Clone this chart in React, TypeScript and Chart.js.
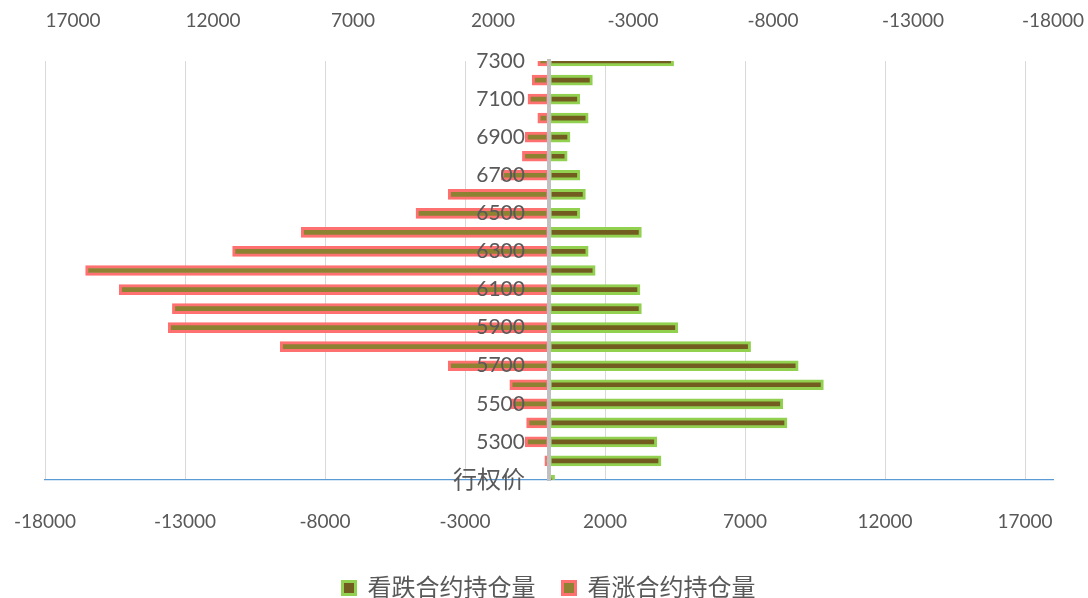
import { useEffect, useRef } from 'react';
import { Chart, registerables } from 'chart.js';

Chart.register(...registerables);

// Strike prices, bottom to top (the first row is the header cell of the sheet)
const STRIKES = [
  '行权价', '5200', '5300', '5400', '5500', '5600', '5700', '5800', '5900', '6000', '6100', '6200',
  '6300', '6400', '6500', '6600', '6700', '6800', '6900', '7000', '7100', '7200', '7300',
];

// Put open interest (看跌), plotted on the bottom axis
const PUT_OI = [
  200, 4000, 3850, 8500, 8350, 9800, 8900, 7200, 4600, 3300, 3250, 1650,
  1400, 3300, 1100, 1300, 1100, 650, 750, 1400, 1100, 1550, 4450,
];

// Call open interest (看涨), plotted on the reversed top axis
const CALL_OI = [
  null, 150, 850, 800, 1350, 1400, 3600, 9600, 13600, 13450, 15350, 16550,
  11300, 8850, 4750, 3600, 1700, 950, 850, 400, 750, 600, 400,
];

const BOTTOM_TICKS = [-18000, -13000, -8000, -3000, 2000, 7000, 12000, 17000];
const TOP_TICKS = [17000, 12000, 7000, 2000, -3000, -8000, -13000, -18000];

// Strike labels sit a little to the left of the zero line (value on the bottom axis)
const LABEL_ANCHOR = -860;

const FONT = "Lato, 'Noto Sans CJK SC', sans-serif";
const TEXT = '#595959';

export default function App() {
  const canvasRef = useRef<HTMLCanvasElement>(null);

  useEffect(() => {
    const canvas = canvasRef.current;
    if (!canvas) return;
    const chart = new Chart(canvas, {
      type: 'bar',
      data: {
        labels: STRIKES,
        datasets: [
          {
            label: '看跌合约持仓量',
            data: PUT_OI,
            xAxisID: 'x',
            yAxisID: 'y',
            backgroundColor: '#725c20',
            borderColor: '#92d050',
            borderWidth: 3,
            borderSkipped: false,
            barThickness: 10,
            grouped: false,
          },
          {
            label: '看涨合约持仓量',
            data: CALL_OI,
            xAxisID: 'x2',
            yAxisID: 'y',
            backgroundColor: '#8c8232',
            borderColor: '#ff7070',
            borderWidth: 3,
            borderSkipped: false,
            barThickness: 10,
            grouped: false,
          },
        ],
      },
      options: {
        indexAxis: 'y',
        responsive: false,
        animation: false,
        layout: { padding: { left: 45, right: 35, top: 0, bottom: -12 } },
        plugins: {
          tooltip: { enabled: false },
          legend: {
            position: 'bottom',
            labels: {
              boxWidth: 13,
              boxHeight: 13,
              padding: 27,
              color: TEXT,
              font: { family: FONT, size: 24 },
            },
          },
        },
        scales: {
          x: {
            type: 'linear',
            position: 'bottom',
            min: -18000,
            max: 18000,
            afterBuildTicks: (s: any) => {
              s.ticks = BOTTOM_TICKS.map((v) => ({ value: v }));
            },
            afterFit: (s: any) => {
              s.height = 69;
              s.paddingLeft = 0;
              s.paddingRight = 0;
            },
            ticks: {
              callback: (v: any) => String(v),
              color: TEXT,
              font: { family: FONT, size: 19 },
              padding: 30,
              autoSkip: false,
              maxRotation: 0,
            },
            grid: { color: '#d9d9d9', lineWidth: 1, drawTicks: false },
            border: { color: '#5b9bd5', width: 1.2 },
          },
          x2: {
            type: 'linear',
            position: 'top',
            reverse: true,
            min: -18000,
            max: 18000,
            afterBuildTicks: (s: any) => {
              s.ticks = TOP_TICKS.map((v) => ({ value: v }));
            },
            afterFit: (s: any) => {
              s.height = 61;
              s.paddingLeft = 0;
              s.paddingRight = 0;
            },
            ticks: {
              callback: (v: any) => String(v),
              color: TEXT,
              font: { family: FONT, size: 19 },
              padding: 28.6,
              autoSkip: false,
              maxRotation: 0,
            },
            grid: { display: false, drawTicks: false },
            border: { display: false },
          },
          // Category axis for the bars: only its line at zero is shown, over the bars
          y: {
            type: 'category',
            position: { x: 0 },
            reverse: true,
            offset: false,
            grid: { display: false, drawTicks: false },
            border: { color: '#c0c0c0', width: 4, z: 1 },
            ticks: { display: false },
          },
          // Same categories, carrying the strike labels (every other row)
          yLabels: {
            type: 'category',
            position: { x: LABEL_ANCHOR },
            reverse: true,
            offset: false,
            grid: { display: false, drawTicks: false },
            border: { display: false },
            ticks: {
              z: 1,
              autoSkip: false,
              color: TEXT,
              font: (ctx: any) => ({ family: FONT, size: ctx.index === 0 ? 24 : 21 }),
              padding: 0,
              callback: (_v: any, i: number) => (i % 2 === 0 ? STRIKES[i] : ''),
            },
          },
        },
      },
    } as any);
    return () => chart.destroy();
  }, []);

  return (
    <div style={{ position: 'fixed', left: 0, top: 0, width: 1088, height: 598, background: '#ffffff' }}>
      <canvas ref={canvasRef} width={1088} height={598} style={{ display: 'block' }} />
    </div>
  );
}
